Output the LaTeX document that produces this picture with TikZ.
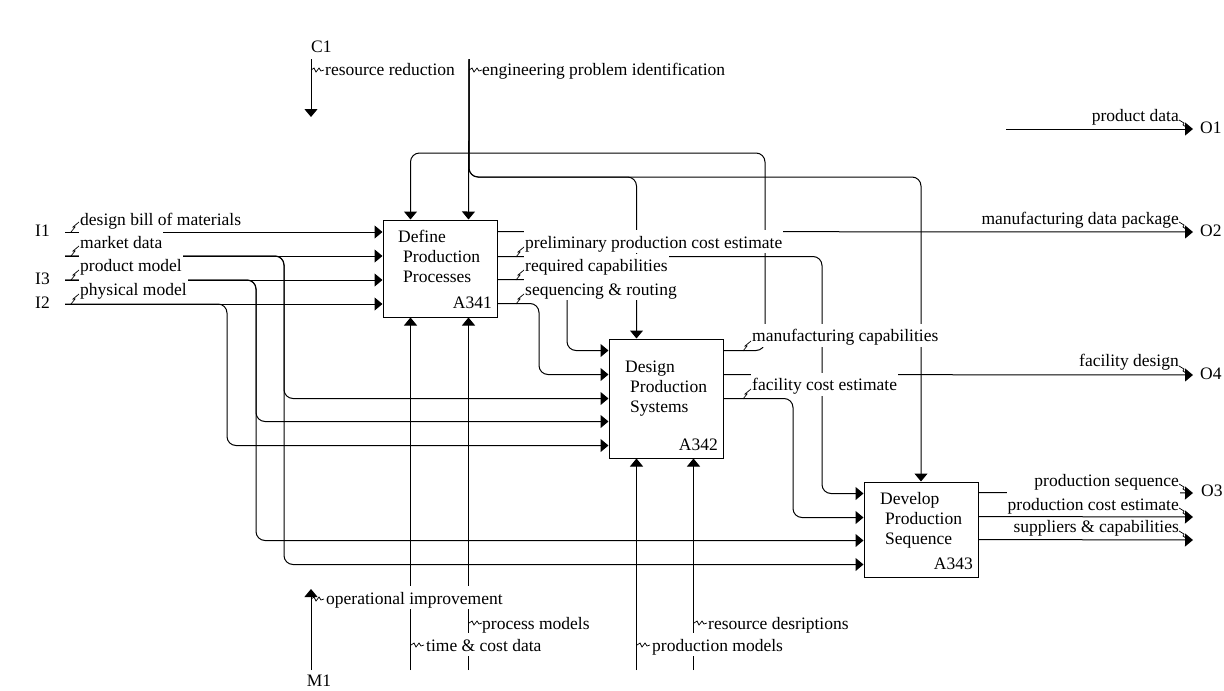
\documentclass[tikz,border=0pt]{standalone}
\usepackage{fontspec}
\setmainfont{Liberation Serif}
\usetikzlibrary{arrows.meta,calc}

\tikzset{
  flow/.style={line width=1pt, -{Triangle[length=8pt,width=13pt]}, rounded corners=9pt},
  proc/.style={draw, line width=1pt, minimum width=114pt, inner sep=0pt},
  lbl/.style={fill=white, inner xsep=1pt, inner ysep=1pt, text height=17pt, text depth=4pt},
  squig/.style={line width=0.7pt},
}
% squiggles that tie a label to its arrow
\newcommand{\sqin}[1]{\draw[squig] (#1) -- ++(4,-5) -- ++(-2,0) -- ++(6,-5);}
\newcommand{\sqvt}[1]{\draw[squig] (#1) -- ++(3,-2) -- ++(2,4) -- ++(3,-4) -- ++(2,3) -- ++(3,-1);}
\newcommand{\sqout}[1]{\draw[squig] (#1) -- ++(5,3) -- ++(-1,2) -- ++(6,4);}

\begin{document}
\begin{tikzpicture}[x=1pt, y=-1pt, font=\fontsize{17.5}{20}\selectfont]
    \useasboundingbox (0,0) rectangle (1224,691);

    % activities
    \node[proc, minimum height=97pt]  (dpp)  at (440,268.5) {};
    \node[proc, minimum height=119pt] (dps)  at (666,398.5) {};
    \node[proc, minimum height=95pt]  (dseq) at (921,529.5) {};

    \node[anchor=north west, align=left, inner sep=0] at (398,229.9) {Define\\\hspace*{5pt}Production\\\hspace*{5pt}Processes};
    \node[anchor=north west, align=left, inner sep=0] at (625,360.9) {Design\\\hspace*{5pt}Production\\\hspace*{5pt}Systems};
    \node[anchor=north west, align=left, inner sep=0] at (880,492.2) {Develop\\\hspace*{5pt}Production\\\hspace*{5pt}Sequence};
    \node[anchor=base east, inner sep=0] at (492,308.3) {A341};
    \node[anchor=base east, inner sep=0] at (718,450.7) {A342};
    \node[anchor=base east, inner sep=0] at (973,569.3) {A343};

    % boundary ends
    \coordinate (I1)  at (65,232);
    \coordinate (Imd) at (65,256);
    \coordinate (I3)  at (65,280);
    \coordinate (I2)  at (65,304);
    \coordinate (C1a) at (311,59);
    \coordinate (C1b) at (311,117);
    \coordinate (Ceng) at (469,59);
    \coordinate (M1a) at (311,670);
    \coordinate (M1b) at (311,589);
    \coordinate (O1s) at (1006,129);
    \coordinate (O1)  at (1193,129);
    \coordinate (O2)  at (1193,232);
    \coordinate (O4)  at (1193,375);
    \coordinate (O3)  at (1193,493);
    \coordinate (Ocost) at (1193,517);
    \coordinate (Osup)  at (1193,540);
    \coordinate (ybus) at (0,177);
    \coordinate (ytop) at (0,153);
    \coordinate (ybot) at (0,670);

    % routing columns
    \coordinate (kph) at (227,0);
    \coordinate (kpm) at (256,0);
    \coordinate (kmd) at (284,0);
    \coordinate (ksr) at (539,0);
    \coordinate (krc) at (567,0);
    \coordinate (kmc) at (765,0);
    \coordinate (kfc) at (793,0);
    \coordinate (kpc) at (822,0);

    % ports
    \coordinate (dpp-c1) at ($(dpp.north west)+(28,0)$);
    \coordinate (dpp-c2) at ($(dpp.north west)+(86,0)$);
    \coordinate (dpp-m1) at ($(dpp.south west)+(28,0)$);
    \coordinate (dpp-m2) at ($(dpp.south west)+(86,0)$);
    \coordinate (dpp-o1) at ($(dpp.north east)+(0,12)$);
    \coordinate (dpp-o2) at ($(dpp.north east)+(0,37)$);
    \coordinate (dpp-o3) at ($(dpp.north east)+(0,60)$);
    \coordinate (dpp-o4) at ($(dpp.north east)+(0,84)$);
    \coordinate (dps-i1) at ($(dps.north west)+(0,12)$);
    \coordinate (dps-i2) at ($(dps.north west)+(0,36)$);
    \coordinate (dps-i3) at ($(dps.north west)+(0,60)$);
    \coordinate (dps-i4) at ($(dps.north west)+(0,83)$);
    \coordinate (dps-i5) at ($(dps.north west)+(0,107)$);
    \coordinate (dps-c1) at ($(dps.north west)+(28,0)$);
    \coordinate (dps-m1) at ($(dps.south west)+(28,0)$);
    \coordinate (dps-m2) at ($(dps.south west)+(85,0)$);
    \coordinate (dps-o1) at ($(dps.north east)+(0,12)$);
    \coordinate (dps-o2) at ($(dps.north east)+(0,36)$);
    \coordinate (dps-o3) at ($(dps.north east)+(0,60)$);
    \coordinate (dseq-i1) at ($(dseq.north west)+(0,12)$);
    \coordinate (dseq-i2) at ($(dseq.north west)+(0,36)$);
    \coordinate (dseq-i3) at ($(dseq.north west)+(0,59)$);
    \coordinate (dseq-i4) at ($(dseq.north west)+(0,83)$);
    \coordinate (dseq-o1) at ($(dseq.north east)+(0,11)$);
    \coordinate (dseq-o2) at ($(dseq.north east)+(0,35)$);
    \coordinate (dseq-o3) at ($(dseq.north east)+(0,58)$);

    % inputs
    \draw[flow] (I1) -- (I1 -| dpp.west);
    \draw[flow] (Imd) -- (Imd -| dpp.west);
    \draw[flow] (I3) -- (I3 -| dpp.west);
    \draw[flow] (I2) -- (I2 -| dpp.west);
    \draw[flow] (Imd) -| (kmd |- dps-i3) -- (dps-i3);
    \draw[flow] (Imd) -| (kmd |- dseq-i4) -- (dseq-i4);
    \draw[flow] (I3) -| (kpm |- dps-i4) -- (dps-i4);
    \draw[flow] (I3) -| (kpm |- dseq-i3) -- (dseq-i3);
    \draw[flow] (I2) -| (kph |- dps-i5) -- (dps-i5);

    % controls
    \draw[flow] (C1a) -- (C1b);
    \draw[flow] (Ceng) -- (dpp-c2);
    \draw[flow] (Ceng) |- (ybus -| dps-c1) -- (dps-c1);
    \draw[flow] (Ceng) |- (ybus -| dseq.north) -- (dseq.north);

    % mechanisms
    \draw[flow] (M1a) -- (M1b);
    \draw[flow] (dpp-m1 |- ybot) -- (dpp-m1);
    \draw[flow] (dpp-m2 |- ybot) -- (dpp-m2);
    \draw[flow] (dps-m1 |- ybot) -- (dps-m1);
    \draw[flow] (dps-m2 |- ybot) -- (dps-m2);

    % between activities and outputs
    \draw[flow] (O1s) -- (O1);
    \draw[flow] (dpp-o1) -- (O2);
    \draw[flow] (dpp-o2) -| (kpc |- dseq-i1) -- (dseq-i1);
    \draw[flow] (dpp-o3) -| (krc |- dps-i1) -- (dps-i1);
    \draw[flow] (dpp-o4) -| (ksr |- dps-i2) -- (dps-i2);
    \draw[flow] (dps-o1) -| (kmc |- ytop) -| (dpp-c1);
    \draw[flow] (dps-o2) -- (O4);
    \draw[flow] (dps-o3) -| (kfc |- dseq-i2) -- (dseq-i2);
    \draw[flow] (dseq-o1) -- (O3);
    \draw[flow] (dseq-o3) -- (Osup);

    % boundary names
    \node[anchor=base west, inner sep=0] at (35,236.7) {I1};
    \node[anchor=base west, inner sep=0] at (35,284) {I3};
    \node[anchor=base west, inner sep=0] at (35,308.3) {I2};
    \node[anchor=base west, inner sep=0] at (311,52.5) {C1};
    \node[anchor=base west, inner sep=0] at (306.7,686.7) {M1};
    \node[anchor=base west, inner sep=0] at (1200,133.3) {O1};
    \node[anchor=base west, inner sep=0] at (1200,236.7) {O2};
    \node[anchor=base west, inner sep=0] at (1200,379.3) {O4};
    \node[anchor=base west, inner sep=0] at (1201,496.7) {O3};

    % arrow labels
    \node[lbl, anchor=base west] at (79,225) {design bill of materials};
    \node[lbl, anchor=base west] at (79,248.3) {market data};
    \node[lbl, anchor=base west] at (79,271.7) {product model};
    \node[lbl, anchor=base west] at (79,295.7) {physical model};
    \node[lbl, anchor=base west] at (524,248.3) {preliminary production cost estimate};
    \node[lbl, anchor=base west] at (524,271.7) {required capabilities};
    \node[lbl, anchor=base west] at (524,295) {sequencing \& routing};
    \node[lbl, anchor=base west] at (751,341.7) {manufacturing capabilities};
    \node[lbl, anchor=base west] at (751,390.7) {facility cost estimate};
    \node[lbl, anchor=base west] at (324,75) {resource reduction};
    \node[lbl, anchor=base west] at (481,75) {engineering problem identification};
    \node[lbl, anchor=base west] at (325,604.3) {operational improvement};
    \node[lbl, anchor=base west] at (481,629) {process models};
    \node[lbl, anchor=base west] at (425,651) {time \& cost data};
    \node[lbl, anchor=base west] at (707,629) {resource desriptions};
    \node[lbl, anchor=base west] at (651,651) {production models};
    \node[lbl, anchor=base east] at (1180,121.7) {product data};
    \node[lbl, anchor=base east] at (1180,224) {manufacturing data package};
    \node[lbl, anchor=base east] at (1180,366.7) {facility design};
    \node[lbl, anchor=base east] at (1180,486.7) {production sequence};
    \node[lbl, anchor=base east] at (1180,510) {production cost estimate};
    \node[lbl, anchor=base east] at (1180,532.7) {suppliers \& capabilities};

    \draw[flow] (dseq-o2) -- (Ocost);

    \sqin{71,232} \sqin{71,256} \sqin{71,280} \sqin{71,304}
    \sqin{516,257} \sqin{516,280} \sqin{516,304}
    \sqin{743,351} \sqin{743,399}
    \sqvt{311,70} \sqvt{469,70}
    \sqvt{311,599} \sqvt{469,623} \sqvt{411,645} \sqvt{694,623} \sqvt{637,645}
    \sqout{1179,120} \sqout{1179,222} \sqout{1179,366} \sqout{1179,484} \sqout{1179,508} \sqout{1179,531}
\end{tikzpicture}
\end{document}
